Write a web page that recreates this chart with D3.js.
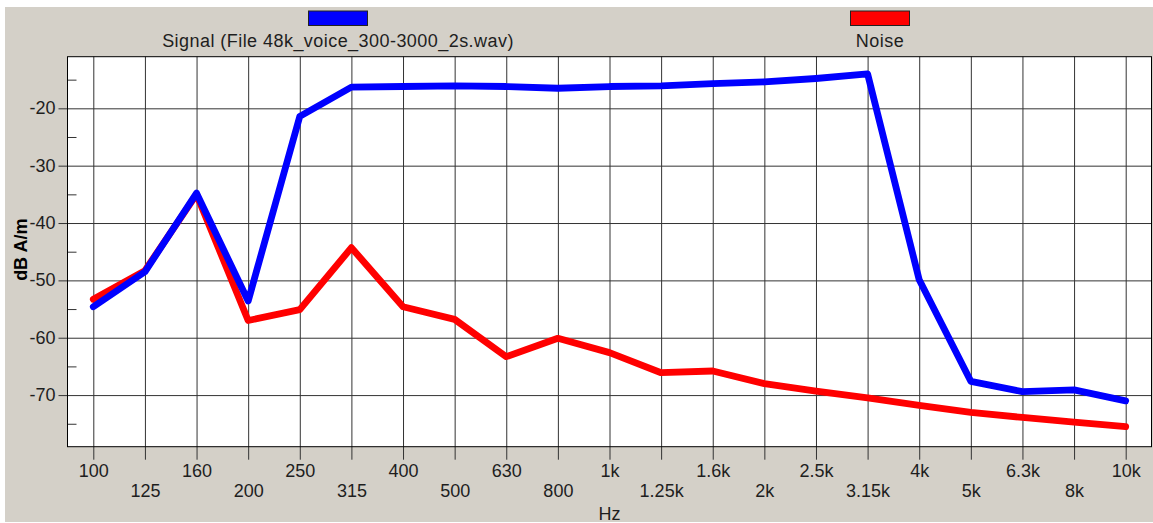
<!DOCTYPE html>
<html>
<head>
<meta charset="utf-8">
<script src="https://cdn.jsdelivr.net/npm/d3@7/dist/d3.min.js"></script>
<style>
html,body{margin:0;padding:0;background:#ffffff;}
svg{display:block;}
text{font-family:"Liberation Sans",Arial,sans-serif;}
</style>
</head>
<body>
<svg id="chart" width="1153" height="523"></svg>
<script>
const freqLabels = ["100","125","160","200","250","315","400","500","630","800","1k","1.25k","1.6k","2k","2.5k","3.15k","4k","5k","6.3k","8k","10k"];
const signalValues = [-54.6,-48.5,-34.8,-53.6,-21.4,-16.3,-16.2,-16.1,-16.2,-16.5,-16.2,-16.1,-15.7,-15.4,-14.8,-14.0,-49.9,-67.6,-69.4,-69.1,-71.0];
const noiseValues  = [-53.3,-48.3,-35.0,-57.0,-55.1,-44.3,-54.6,-56.8,-63.3,-60.1,-62.6,-66.1,-65.8,-68.0,-69.3,-70.5,-71.8,-73.0,-73.9,-74.7,-75.5];
const majorTicks = [-70,-60,-50,-40,-30,-20];
const minorTicks = [-75,-65,-55,-45,-35,-25,-15];
const seriesNames = ["Signal (File 48k_voice_300-3000_2s.wav)","Noise"];
const seriesColors = ["#0000ff","#ff0000"];

const svg = d3.select("#chart");
const L = 67.5, R = 1151.5, T = 56.7, B = 446.7;
const txt = "#1e1e1e";

// background panel
svg.append("rect").attr("x",5).attr("y",7).attr("width",1148).attr("height",515).attr("fill","#d4d0c8");

const x = d3.scalePoint().domain(freqLabels).range([L,R]).padding(0.5);
const y = d3.scaleLinear().domain([-79,-11]).range([B,T]);

// plot area
svg.append("rect").attr("x",L).attr("y",T).attr("width",R-L).attr("height",B-T).attr("fill","#ffffff");

// vertical gridlines + ticks below
const xg = svg.append("g").attr("transform",`translate(0,${B})`)
  .call(d3.axisBottom(x).tickSize(-(B-T)).tickSizeOuter(0).tickFormat(""));
xg.select(".domain").remove();
xg.selectAll("line").attr("stroke","#333").attr("stroke-width",1);

const xa = svg.append("g").attr("transform",`translate(0,${B})`)
  .call(d3.axisBottom(x).tickSize(13).tickSizeOuter(0).tickPadding(0));
xa.select(".domain").remove();
xa.selectAll("line").attr("stroke","#333");
xa.selectAll("text")
  .attr("fill",txt).attr("font-size",18)
  .attr("font-family","Liberation Sans, Arial, sans-serif")
  .attr("dy",null)
  .attr("y",(d,i)=> i%2===0 ? 30.3 : 50.8);

// horizontal gridlines
const yg = svg.append("g").attr("transform",`translate(${L},0)`)
  .call(d3.axisLeft(y).tickValues(majorTicks).tickSize(-(R-L)).tickSizeOuter(0).tickFormat(""));
yg.select(".domain").remove();
yg.selectAll("line").attr("stroke","#333");

const ya = svg.append("g").attr("transform",`translate(${L},0)`)
  .call(d3.axisLeft(y).tickValues(majorTicks).tickSize(9).tickSizeOuter(0).tickPadding(3).tickFormat(d=>String(d)));
ya.select(".domain").remove();
ya.selectAll("line").attr("stroke","#333");
ya.selectAll("text").attr("fill",txt).attr("font-size",18).attr("font-family","Liberation Sans, Arial, sans-serif").attr("dy","0.3em");

// minor ticks inside
const ym = svg.append("g").attr("transform",`translate(${L},0)`)
  .call(d3.axisRight(y).tickValues(minorTicks).tickSize(9).tickSizeOuter(0).tickFormat(""));
ym.select(".domain").remove();
ym.selectAll("line").attr("stroke","#333");

// plot border
svg.append("rect").attr("x",L).attr("y",T).attr("width",R-L).attr("height",B-T)
  .attr("fill","none").attr("stroke","#000").attr("stroke-width",1);

// lines
const line = d3.line().x((d,i)=>x(freqLabels[i])).y(d=>y(d));
svg.append("path").datum(noiseValues).attr("d",line)
  .attr("fill","none").attr("stroke",seriesColors[1]).attr("stroke-width",6.8)
  .attr("stroke-linejoin","round").attr("stroke-linecap","round");
svg.append("path").datum(signalValues).attr("d",line)
  .attr("fill","none").attr("stroke",seriesColors[0]).attr("stroke-width",6.8)
  .attr("stroke-linejoin","round").attr("stroke-linecap","round");

// legend
const legendCenters = [338, 880];
seriesNames.forEach((n,i)=>{
  svg.append("rect").attr("x",legendCenters[i]-29.5).attr("y",11).attr("width",59).attr("height",14.5)
    .attr("fill",seriesColors[i]).attr("stroke","#222").attr("stroke-width",1);
  svg.append("text").attr("x",legendCenters[i]).attr("y",47).attr("text-anchor","middle")
    .attr("font-size",18).attr("letter-spacing",0.45).attr("fill",txt).text(n);
});

// axis titles
svg.append("text").attr("x",(L+R)/2 + 0).attr("y",520).attr("text-anchor","middle")
  .attr("font-size",18).attr("fill",txt).text("Hz");
svg.append("text").attr("transform",`translate(27,${(T+B)/2 - 2}) rotate(-90)`)
  .attr("text-anchor","middle").attr("font-size",18).attr("font-weight","bold").attr("fill","#000").text("dB A/m");
</script>
</body>
</html>
